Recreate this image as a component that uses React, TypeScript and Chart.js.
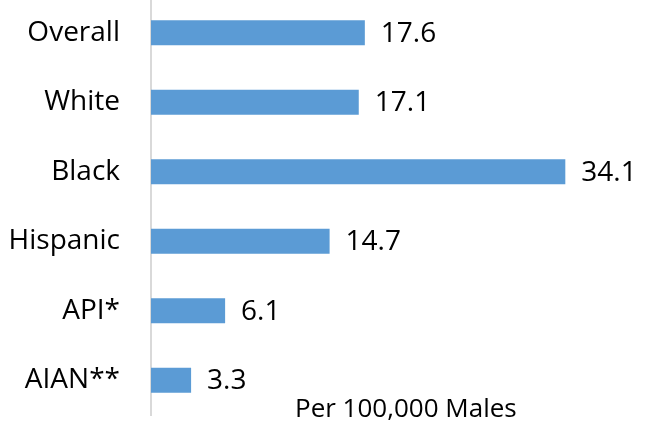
import React, { useEffect, useRef } from "react";
import { Chart, registerables } from "chart.js";

Chart.register(...registerables);

const categories = ["Overall", "White", "Black", "Hispanic", "API*", "AIAN**"];
const values = [17.6, 17.1, 34.1, 14.7, 6.1, 3.3];
const unitNote = "Per 100,000 Males";
const barColor = "#5B9BD5";
const FONT = "'Open Sans', 'DejaVu Sans', sans-serif";

const valueLabels = {
  id: "valueLabels",
  afterDatasetsDraw(chart: any) {
    const ctx = chart.ctx;
    const meta = chart.getDatasetMeta(0);
    ctx.save();
    ctx.font = `28px ${FONT}`;
    ctx.fillStyle = "#000";
    ctx.textAlign = "left";
    ctx.textBaseline = "middle";
    meta.data.forEach((bar: any, i: number) => {
      ctx.fillText(values[i].toFixed(1), bar.x + 16, bar.y + 1);
    });
    const area = chart.chartArea;
    ctx.font = `26px ${FONT}`;
    ctx.textBaseline = "alphabetic";
    ctx.fillText(unitNote, area.left + 144, area.bottom + 2);
    ctx.restore();
  },
};

export default function App() {
  const ref = useRef<HTMLCanvasElement>(null);
  useEffect(() => {
    document.body.style.margin = "0";
    document.body.style.overflow = "hidden";
    const chart = new Chart(ref.current!, {
      type: "bar",
      data: {
        labels: categories,
        datasets: [
          {
            data: values,
            backgroundColor: barColor,
            barPercentage: 0.36,
            categoryPercentage: 1,
          },
        ],
      },
      options: {
        indexAxis: "y",
        animation: false,
        responsive: false,
        maintainAspectRatio: false,
        layout: { padding: { left: 0, right: 16, top: 0, bottom: 8 } },
        plugins: {
          legend: { display: false },
          tooltip: { enabled: false },
        },
        scales: {
          x: {
            display: false,
            min: 0,
            max: 40,
          },
          y: {
            grid: { display: false },
            border: { display: true, color: "#d9d9d9", width: 2 },
            ticks: {
              color: "#000",
              font: { family: FONT, size: 28 },
              padding: 23,
            },
            afterFit(scale: any) {
              scale.width = 151;
              scale.paddingTop = 0;
              scale.paddingBottom = 0;
            },
          },
        },
      },
      plugins: [valueLabels],
    });
    return () => chart.destroy();
  }, []);
  return (
    <div style={{ position: "absolute", left: 0, top: -2, width: 653, height: 425 }}>
      <canvas ref={ref} width={653} height={425} style={{ width: 653, height: 425 }} />
    </div>
  );
}
